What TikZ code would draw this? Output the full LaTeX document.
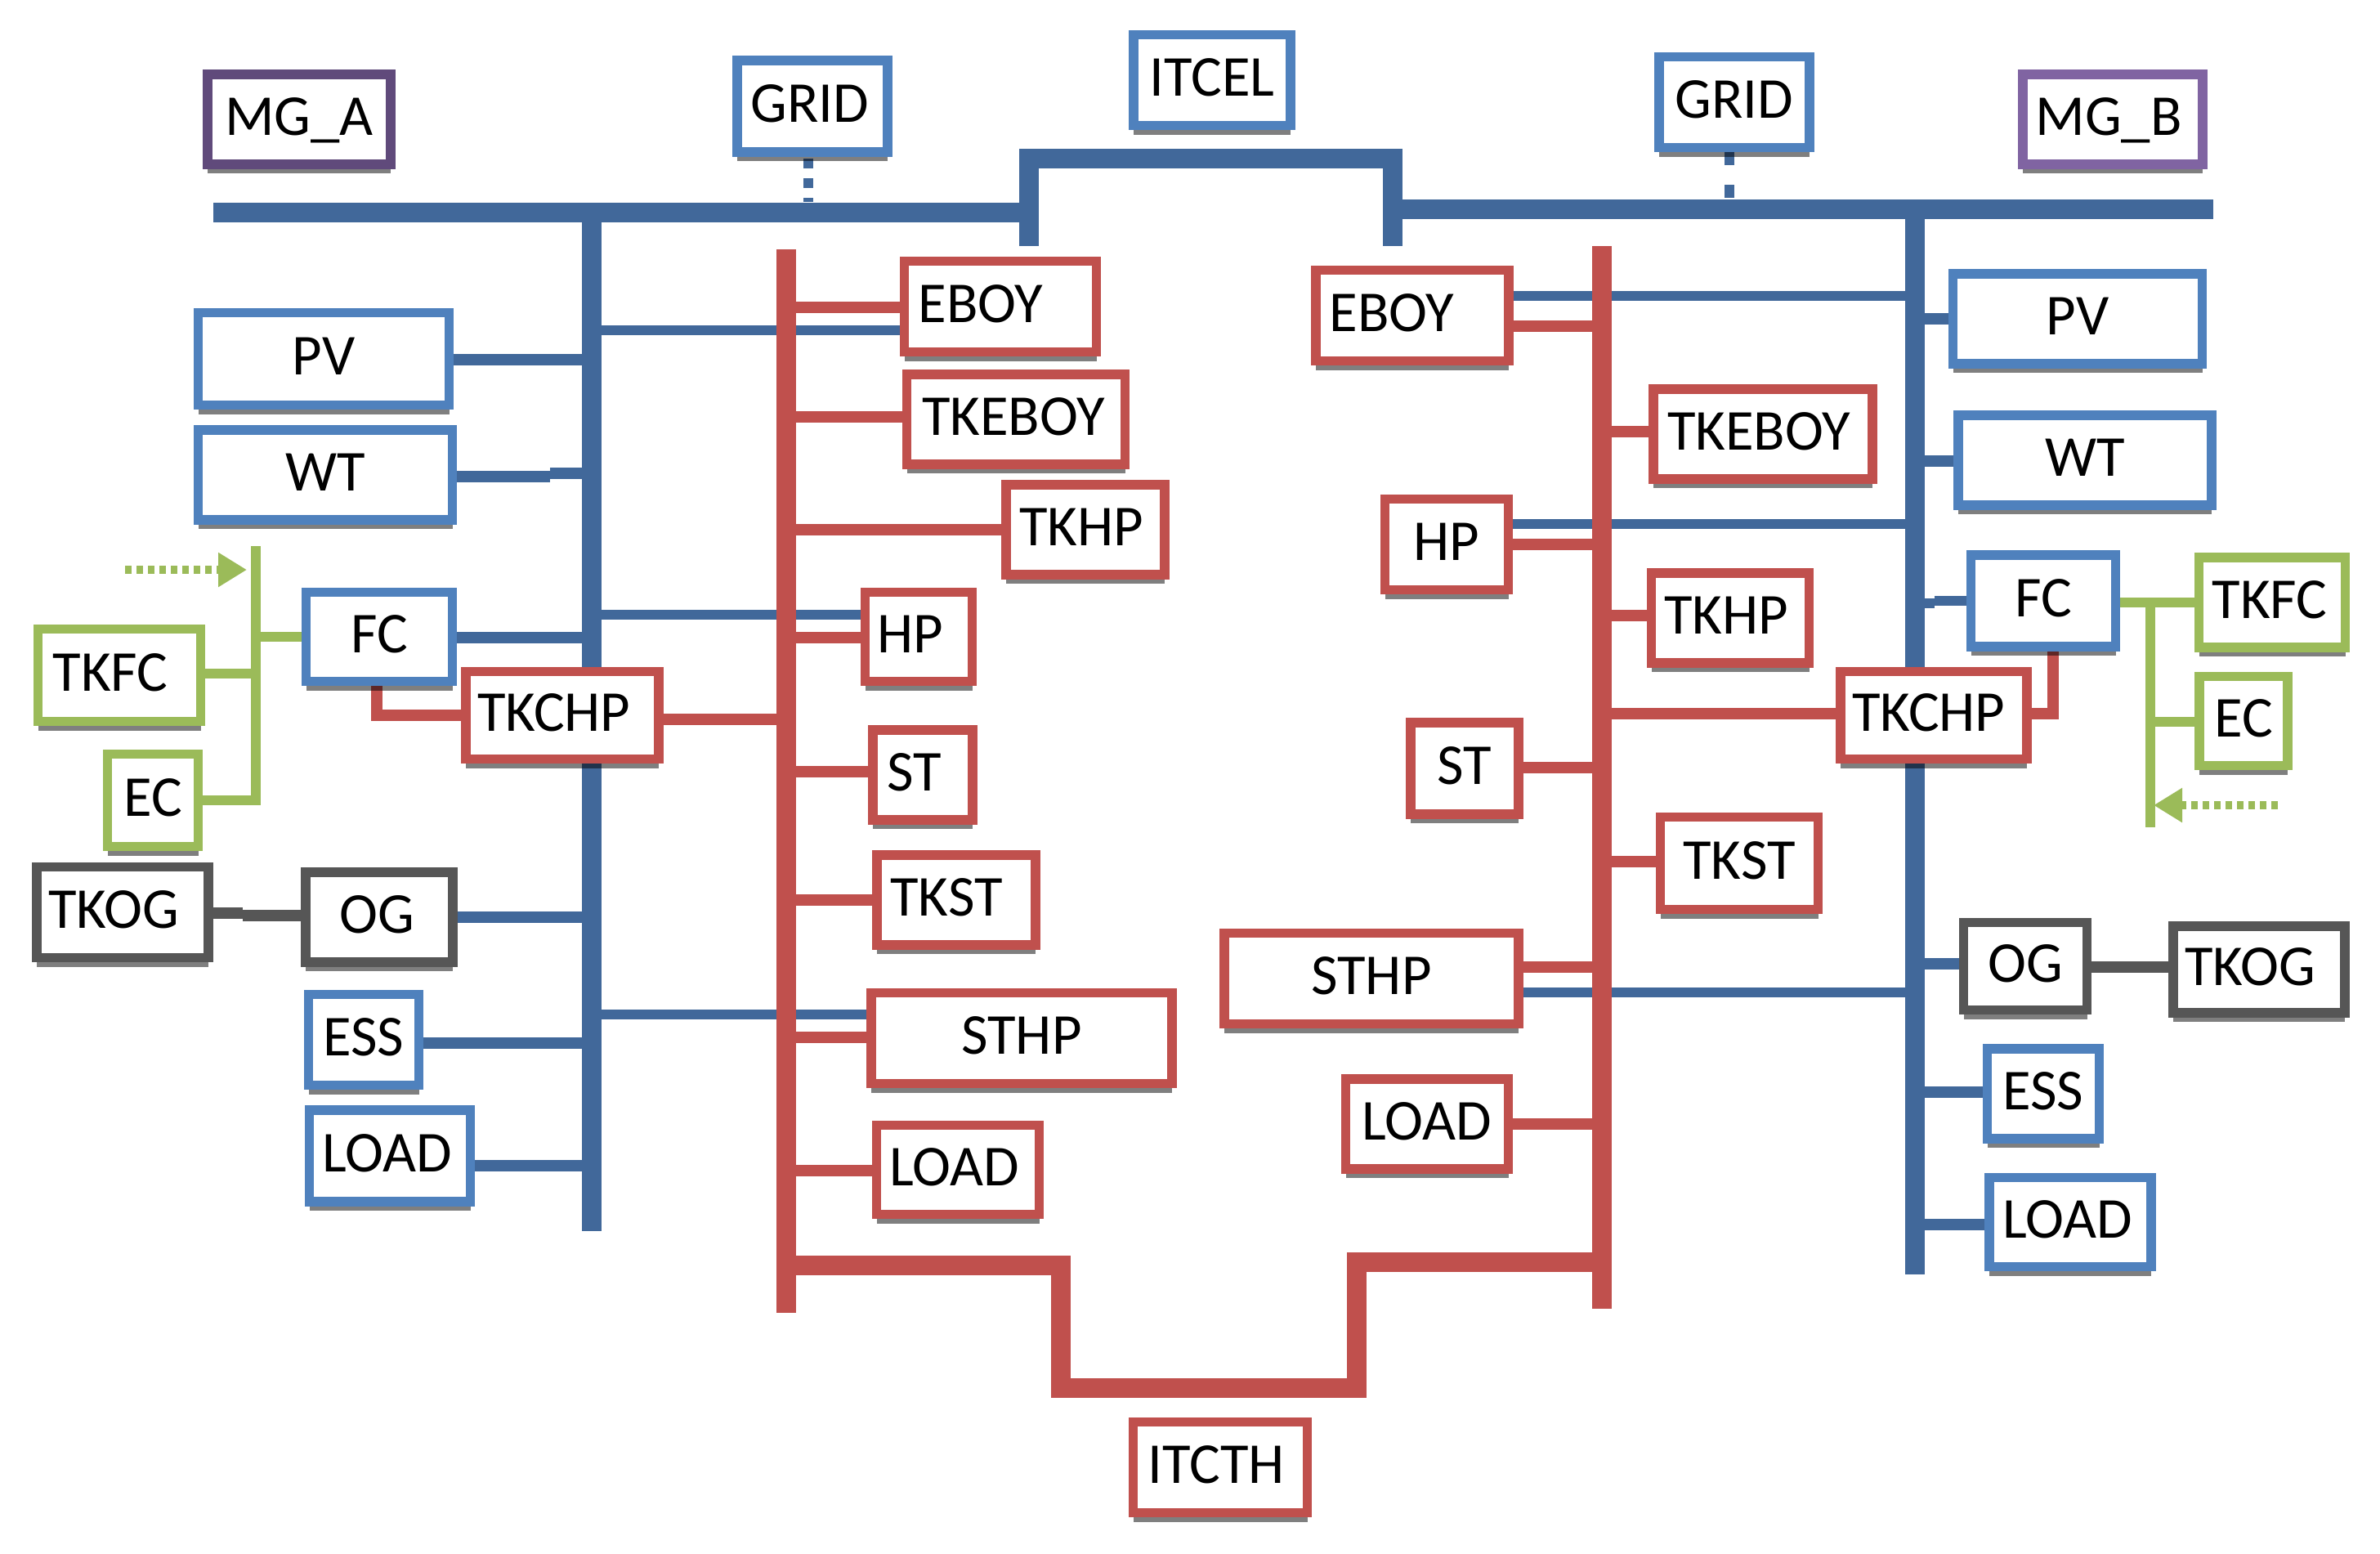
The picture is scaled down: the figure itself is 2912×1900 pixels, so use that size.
\documentclass[tikz,border=0pt]{standalone}
\usepackage{fontspec}
\setmainfont{Carlito}
\usetikzlibrary{calc,shadows,arrows.meta}
\pgfdeclarelayer{lines}
\pgfsetlayers{lines,main}
\definecolor{ElecBlue}{HTML}{41689A}
\definecolor{HeatRed}{HTML}{C0504D}
\definecolor{BoxBlue}{HTML}{4F81BD}
\definecolor{GasGreen}{HTML}{9BBB59}
\definecolor{OilGrey}{HTML}{565656}
\definecolor{PurpleA}{HTML}{604A7B}
\definecolor{PurpleB}{HTML}{8064A2}
\tikzstyle{Box} = [rectangle, draw, fill=white, line width=2.9pt, inner sep=0pt,
    text height=11.25pt, text depth=1.75pt, font=\fontsize{17.7}{20}\selectfont,
    drop shadow={shadow xshift=0pt, shadow yshift=-2.8pt, opacity=.5, fill=black}]
\tikzstyle{BlueBox} = [Box, draw=BoxBlue]
\tikzstyle{RedBox} = [Box, draw=HeatRed]
\tikzstyle{GreenBox} = [Box, draw=GasGreen]
\tikzstyle{GreyBox} = [Box, draw=OilGrey]
\tikzstyle{Bus} = [line width=6pt]
\tikzstyle{ElecBus} = [Bus, draw=ElecBlue]
\tikzstyle{HeatBus} = [Bus, draw=HeatRed]
\tikzstyle{ElecLine} = [line width=3.5pt, draw=ElecBlue]
\tikzstyle{ElecThin} = [line width=3pt, draw=ElecBlue]
\tikzstyle{HeatLine} = [line width=3.6pt, draw=HeatRed]
\tikzstyle{GasLine} = [line width=2.8pt, draw=GasGreen]
\tikzstyle{OilLine} = [line width=3.5pt, draw=OilGrey]
\tikzstyle{GridLine} = [line width=3pt, draw=ElecBlue, dash pattern=on 3pt off 3pt]
\tikzstyle{GasArrow} = [line width=2.5pt, draw=GasGreen, dash pattern=on 2pt off 1.5pt,
    -{Triangle[length=8.75pt,width=10pt,fill=GasGreen]}]
\tikzset{sz/.style 2 args={minimum width=#1*.25pt, minimum height=#2*.25pt}}
\newcommand{\Lft}[2]{#1\hspace*{#2\dimexpr.5pt\relax}}
\begin{document}
\begin{tikzpicture}[x=.25pt,y=-.25pt]
    \useasboundingbox (0,0) rectangle (2912,1900);
    % top labels
    \node[Box, draw=PurpleA, sz={224}{110}] (MGA) at (366,146) {MG\_A};
    \node[Box, draw=PurpleB, sz={220}{110}] (MGB) at (2585,146) {\Lft{MG\_B}{5}};
    \node[BlueBox, sz={184}{112}] (GRIDA) at (994,130) {\Lft{GRID}{3}};
    \node[BlueBox, sz={184}{111}] (GRIDB) at (2122,125) {GRID};
    \node[BlueBox, sz={192}{111}] (ITCEL) at (1483,98) {ITCEL};
    \node[RedBox, sz={213}{111}] (ITCTH) at (1493,1795) {\Lft{ITCTH}{5}};
    % electric side A
    \node[BlueBox, sz={307}{113}] (PVA) at (396,439) {PV};
    \node[BlueBox, sz={311}{110}] (WTA) at (398,581) {WT};
    \node[BlueBox, sz={179}{109}] (FCA) at (464,779) {FC};
    \node[GreenBox, sz={199}{113}] (TKFCA) at (146,826) {\Lft{TKFC}{11}};
    \node[GreenBox, sz={111}{113}] (ECA) at (187,979) {EC};
    \node[GreyBox, sz={210}{111}] (TKOGA) at (150,1116) {\Lft{TKOG}{11}};
    \node[GreyBox, sz={180}{110}] (OGA) at (464,1122) {\Lft{OG}{3}};
    \node[BlueBox, sz={135}{111}] (ESSA) at (445,1272) {ESS};
    \node[BlueBox, sz={197}{112}] (LOADA) at (477,1414) {\Lft{LOAD}{3}};
    % thermal side A
    \node[RedBox, sz={235}{111}] (EBOYA) at (1224,375) {\Lft{EBOY}{24}};
    \node[RedBox, sz={267}{110}] (TKEBOYA) at (1243,513) {\Lft{TKEBOY}{3}};
    \node[RedBox, sz={194}{110}] (TKHPA) at (1328,648) {\Lft{TKHP}{5}};
    \node[RedBox, sz={131}{109}] (HPA) at (1124,779) {\Lft{HP}{10}};
    \node[RedBox, sz={236}{107}] (TKCHPA) at (688,875) {\Lft{TKCHP}{10}};
    \node[RedBox, sz={122}{110}] (STA) at (1129,948) {\Lft{ST}{10}};
    \node[RedBox, sz={194}{110}] (TKSTA) at (1170,1101) {\Lft{TKST}{12}};
    \node[RedBox, sz={368}{111}] (STHPA) at (1250,1270) {STHP};
    \node[RedBox, sz={199}{109}] (LOADTA) at (1172,1431) {\Lft{LOAD}{4}};
    % thermal side B
    \node[RedBox, sz={236}{111}] (EBOYB) at (1728,386) {\Lft{EBOY}{25}};
    \node[RedBox, sz={268}{110}] (TKEBOYB) at (2157,531) {\Lft{TKEBOY}{5}};
    \node[RedBox, sz={151}{111}] (HPB) at (1770,666) {HP};
    \node[RedBox, sz={193}{110}] (TKHPB) at (2117,756) {\Lft{TKHP}{5}};
    \node[RedBox, sz={228}{107}] (TKCHPB) at (2366,875) {\Lft{TKCHP}{6}};
    \node[RedBox, sz={132}{112}] (STB) at (1792,940) {ST};
    \node[RedBox, sz={193}{113}] (TKSTB) at (2128,1056) {TKST};
    \node[RedBox, sz={360}{111}] (STHPB) at (1678,1197) {STHP};
    \node[RedBox, sz={199}{110}] (LOADTB) at (1746,1375) {LOAD};
    % electric side B
    \node[BlueBox, sz={305}{110}] (PVB) at (2542,390) {PV};
    \node[BlueBox, sz={310}{110}] (WTB) at (2551,563) {WT};
    \node[BlueBox, sz={177}{112}] (FCB) at (2500,735) {FC};
    \node[GreenBox, sz={179}{110}] (TKFCB) at (2780,737) {\Lft{TKFC}{3}};
    \node[GreenBox, sz={108}{109}] (ECB) at (2745,882) {EC};
    \node[GreyBox, sz={151}{107}] (OGB) at (2478,1182) {OG};
    \node[GreyBox, sz={210}{106}] (TKOGB) at (2764,1186) {\Lft{TKOG}{11}};
    \node[BlueBox, sz={137}{110}] (ESSB) at (2500,1338) {ESS};
    \node[BlueBox, sz={198}{109}] (LOADB) at (2533,1495) {\Lft{LOAD}{3}};
    % bus ends
    \coordinate (BusTopA) at (261,260);
    \coordinate (BusTopB) at (2708,256);
    \coordinate (ElecA) at (724,260);
    \coordinate (ElecAEnd) at (724,1506);
    \coordinate (ElecB) at (2343,256);
    \coordinate (ElecBEnd) at (2343,1559);
    \coordinate (HeatA) at (962,305);
    \coordinate (HeatAEnd) at (962,1606);
    \coordinate (HeatB) at (1960,301);
    \coordinate (HeatBEnd) at (1960,1601);
    \coordinate (ItcL) at (1259,301);
    \coordinate (ItcR) at (1704,301);
    \coordinate (GasA) at (313,668);
    \coordinate (GasAEnd) at (313,979);
    \coordinate (GasB) at (2631,737);
    \coordinate (GasBEnd) at (2631,1012);
    \coordinate (DotA) at (153,697);
    \coordinate (DotB) at (2787,985);
    \begin{pgfonlayer}{lines}
        % power branches, these go behind the heat bus
        \draw[ElecThin] (ElecA |- 0,404) -- (EBOYA.west |- 0,404);
        \draw[ElecThin] (ElecA |- 0,752) -- (HPA.west |- 0,752);
        \draw[ElecThin] (ElecA |- 0,1241) -- (STHPA.west |- 0,1241);
        \draw[ElecThin] (EBOYB.east |- 0,362) -- (ElecB |- 0,362);
        \draw[ElecThin] (HPB.east |- 0,641) -- (ElecB |- 0,641);
        \draw[ElecThin] (STHPB.east |- 0,1214) -- (ElecB |- 0,1214);
        % main buses
        \draw[ElecBus] (BusTopA) -- (ItcL |- BusTopA);
        \draw[ElecBus] (ItcR |- BusTopB) -- (BusTopB);
        \draw[ElecBus] (ItcL) -- (ItcL |- 0,194) -- (ItcR |- 0,194) -- (ItcR);
        \draw[ElecBus] (ElecA) -- (ElecAEnd);
        \draw[ElecBus] (ElecB) -- (ElecBEnd);
        \draw[HeatBus] (HeatA) -- (HeatAEnd);
        \draw[HeatBus] (HeatB) -- (HeatBEnd);
        \draw[HeatBus] (HeatA |- 0,1548) -- (1298,1548) -- (1298,1698) -- (1660,1698) -- (1660,1544) -- (HeatB |- 0,1544);
        % grid
        \draw[GridLine] (989,194) -- (989,247);
        \draw[line width=3pt, draw=ElecBlue, dash pattern=on 4pt off 6pt] (2116,186) -- (2116,245);
        % side A
        \draw[ElecLine] (PVA.east |- 0,440) -- (ElecA |- 0,440);
        \draw[ElecLine] (WTA.east |- 0,583) -- (673,583);
        \draw[ElecLine] (673,579) -- (ElecA |- 0,579);
        \draw[ElecLine] (FCA.east |- 0,780) -- (ElecA |- 0,780);
        \draw[ElecLine] (OGA.east |- 0,1122) -- (ElecA |- 0,1122);
        \draw[ElecLine] (ESSA.east |- 0,1276) -- (ElecA |- 0,1276);
        \draw[ElecLine] (LOADA.east |- 0,1426) -- (ElecA |- 0,1426);
        \draw[OilLine] (TKOGA.east |- 0,1117) -- (297,1117);
        \draw[OilLine] (297,1120) -- (OGA.west |- 0,1120);
        \draw[GasLine] (GasA) -- (GasAEnd) -- (ECA.east |- GasAEnd);
        \draw[GasLine] (TKFCA.east |- 0,824) -- (GasA |- 0,824);
        \draw[GasLine] (FCA.west) -- (GasA |- FCA.west);
        \draw[GasArrow] (DotA) -- (302,697);
        \draw[HeatLine] (461,839) -- (461,875) -- (TKCHPA.west |- 0,875);
        \draw[HeatLine] (TKCHPA.east |- 0,880) -- (HeatA |- 0,880);
        \draw[HeatLine] (HeatA |- 0,376) -- (EBOYA.west |- 0,376);
        \draw[HeatLine] (HeatA |- 0,510) -- (TKEBOYA.west |- 0,510);
        \draw[HeatLine] (HeatA |- 0,648) -- (TKHPA.west |- 0,648);
        \draw[HeatLine] (HeatA |- 0,780) -- (HPA.west |- 0,780);
        \draw[HeatLine] (HeatA |- 0,944) -- (STA.west |- 0,944);
        \draw[HeatLine] (HeatA |- 0,1101) -- (TKSTA.west |- 0,1101);
        \draw[HeatLine] (HeatA |- 0,1269) -- (STHPA.west |- 0,1269);
        \draw[HeatLine] (HeatA |- 0,1432) -- (LOADTA.west |- 0,1432);
        % side B
        \draw[HeatLine] (EBOYB.east |- 0,399) -- (HeatB |- 0,399);
        \draw[HeatLine] (HeatB |- 0,528) -- (TKEBOYB.west |- 0,528);
        \draw[HeatLine] (HPB.east |- 0,666) -- (HeatB |- 0,666);
        \draw[HeatLine] (HeatB |- 0,753) -- (TKHPB.west |- 0,753);
        \draw[HeatLine] (HeatB |- 0,873) -- (TKCHPB.west |- 0,873);
        \draw[HeatLine] (STB.east |- 0,939) -- (HeatB |- 0,939);
        \draw[HeatLine] (HeatB |- 0,1054) -- (TKSTB.west |- 0,1054);
        \draw[HeatLine] (STHPB.east |- 0,1183) -- (HeatB |- 0,1183);
        \draw[HeatLine] (LOADTB.east |- 0,1375) -- (HeatB |- 0,1375);
        \draw[HeatLine] (2512,796) -- (2512,873) -- (TKCHPB.east |- 0,873);
        \draw[ElecLine] (ElecB |- 0,390) -- (PVB.west |- 0,390);
        \draw[ElecLine] (ElecB |- 0,564) -- (WTB.west |- 0,564);
        \draw[ElecThin] (ElecB |- 0,738) -- (2367,738);
        \draw[ElecThin] (2367,735) -- (FCB.west |- 0,735);
        \draw[ElecLine] (ElecB |- 0,1179) -- (OGB.west |- 0,1179);
        \draw[ElecLine] (ElecB |- 0,1336) -- (ESSB.west |- 0,1336);
        \draw[ElecLine] (ElecB |- 0,1498) -- (LOADB.west |- 0,1498);
        \draw[OilLine] (OGB.east |- 0,1183) -- (TKOGB.west |- 0,1183);
        \draw[GasLine] (FCB.east |- 0,737) -- (TKFCB.west |- 0,737);
        \draw[GasLine] (GasB) -- (GasBEnd);
        \draw[GasLine] (GasB |- 0,883) -- (ECB.west |- 0,883);
        \draw[GasArrow] (DotB) -- (2635,985);
    \end{pgfonlayer}
\end{tikzpicture}
\end{document}
